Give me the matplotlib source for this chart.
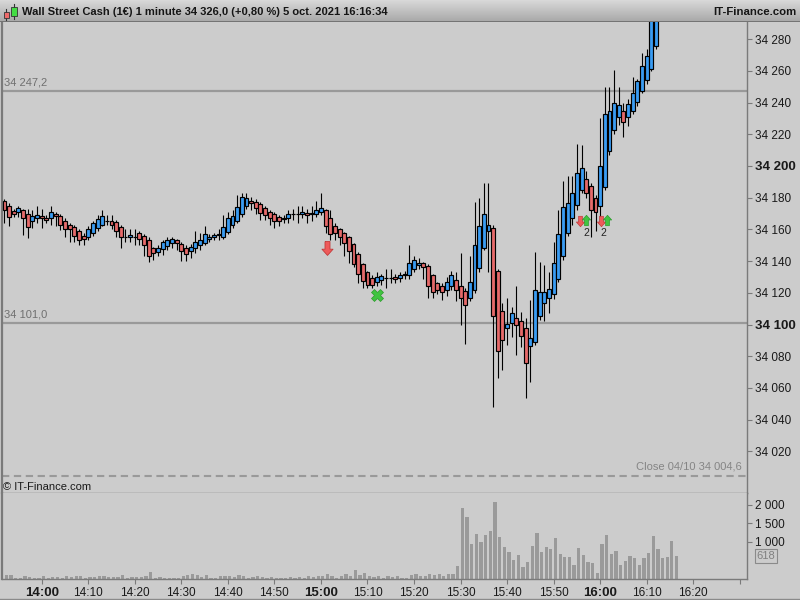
import matplotlib
matplotlib.use("Agg")
import matplotlib.pyplot as plt
import numpy as np
from matplotlib.lines import Line2D
from matplotlib.patches import Rectangle
from matplotlib.colors import LinearSegmentedColormap

plt.rcParams['font.family'] = ['Liberation Sans', 'DejaVu Sans']

# ---------------- data (1-minute candles, first candle 13:52) ----------------
first_minute = -8          # minutes relative to 14:00
opens = [
    34178, 34175, 34171.5, 34171, 34172, 34169.5, 34165, 34167.5,
    34168.5, 34167.5, 34167, 34169.5, 34168.5, 34165.5, 34163, 34161.5, 34159, 34156,
    34155, 34157.5, 34161, 34163, 34165.5, 34165.5, 34164.5, 34161.5, 34155, 34155.5,
    34155.5, 34157.5, 34156, 34153, 34148, 34146, 34147.5, 34149.5, 34151.5, 34153,
    34151, 34148.5, 34146.5, 34148, 34150, 34151.5, 34154, 34155, 34156.5, 34155.5,
    34158.5, 34163, 34165.5, 34170, 34175, 34178, 34177, 34176, 34173.5, 34171,
    34169.5, 34168, 34166.5, 34167, 34169.5, 34170, 34169.5, 34170.5, 34170, 34170,
    34171, 34172, 34167, 34162, 34160, 34157.5, 34155, 34150.5, 34144.5, 34138,
    34133, 34129.5, 34126.5, 34128, 34129.5, 34129.5, 34130, 34129.5, 34131, 34131,
    34135, 34137.5, 34138.5, 34137, 34131, 34126, 34124, 34122, 34124.5, 34128,
    34124.5, 34121, 34117, 34122, 34135.5, 34148.5, 34159, 34161, 34133.5, 34108.5,
    34097.5, 34101, 34104, 34102, 34097.5, 34086.5, 34089, 34105.5, 34113.5, 34116.5,
    34119, 34129, 34143, 34158, 34167.5, 34175.5, 34185, 34191.5, 34187.5, 34179.5,
    34175, 34187, 34209.5, 34222.5, 34231, 34234.5, 34231, 34235, 34240.5, 34247.5,
    34254.5, 34261.5, 34276]
closes = [
    34172, 34168, 34170, 34173.5, 34167, 34161.5, 34168.5, 34169,
    34167.5, 34166, 34171, 34168.5, 34163, 34160.5, 34160, 34156, 34153, 34154,
    34160, 34164, 34166.5, 34168.5, 34165.5, 34163, 34159, 34155, 34155, 34156.5,
    34155.5, 34154, 34150, 34143.5, 34145, 34148.5, 34152, 34153, 34154, 34151.5,
    34146.5, 34144.5, 34149, 34152, 34153, 34157, 34155.5, 34156.5, 34157, 34161.5,
    34167.5, 34168.5, 34174, 34180.5, 34180, 34176.5, 34173.5, 34170.5, 34169, 34167.5,
    34165.5, 34165.5, 34167.5, 34170, 34169.5, 34170, 34171, 34169, 34170.5, 34172.5,
    34173.5, 34162, 34157, 34158, 34155, 34151.5, 34146.5, 34138, 34132, 34127.5,
    34125, 34125, 34130, 34130.5, 34129.5, 34129.5, 34128.5, 34131.5, 34132, 34138.5,
    34140.5, 34139, 34136, 34124.5, 34120.5, 34122, 34120.5, 34126.5, 34131, 34122,
    34117, 34112.5, 34126.5, 34150, 34162, 34169.5, 34162.5, 34105.5, 34083, 34090.5,
    34100.5, 34107.5, 34099.5, 34093, 34075.5, 34091.5, 34122, 34120.5, 34120.5, 34122.5,
    34139, 34157, 34174, 34176.5, 34183, 34195.5, 34198.5, 34183, 34172, 34171,
    34200, 34232.5, 34234.5, 34240, 34238.5, 34228, 34239, 34246, 34253.5, 34263,
    34269.5, 34295, 34300]
highs = [
    34179, 34176.5, 34173, 34175, 34173, 34173, 34172, 34175,
    34173, 34169, 34175, 34171, 34170, 34167, 34164, 34163, 34160, 34157.5,
    34162, 34165, 34169, 34172, 34169, 34169, 34166, 34163, 34160, 34160,
    34160, 34159, 34157, 34155, 34149, 34150, 34153, 34155, 34155, 34154,
    34152, 34150, 34151, 34159, 34158, 34162, 34157, 34158, 34160, 34169,
    34171, 34172, 34182, 34183, 34183, 34180.5, 34179, 34177, 34175, 34172.5,
    34171, 34169, 34169, 34172, 34173, 34175, 34175, 34173, 34175, 34178,
    34183, 34173, 34172, 34164, 34161, 34158.5, 34156, 34151.5, 34145.5, 34139,
    34134, 34131, 34133, 34132, 34135, 34135, 34132, 34133, 34134, 34150,
    34143, 34142, 34139.5, 34138, 34132, 34127, 34126, 34130, 34134, 34133,
    34145, 34123, 34143, 34177, 34180, 34189.5, 34189.5, 34163, 34135, 34113.5,
    34116.5, 34111, 34124, 34108, 34104, 34115.5, 34146, 34139.5, 34137.5, 34133,
    34152, 34172.5, 34190.5, 34194, 34194, 34214, 34213, 34197, 34189, 34182,
    34230, 34250, 34250, 34260.5, 34250, 34240, 34242, 34256, 34255, 34271,
    34274, 34300, 34305]
lows = [
    34164, 34162, 34168, 34168, 34156.5, 34154.5, 34161, 34164,
    34161, 34164, 34163, 34162, 34159.5, 34155.5, 34152, 34152, 34150, 34150,
    34153, 34156, 34159, 34162, 34163, 34160, 34155, 34148, 34152, 34152,
    34150, 34150, 34143, 34139.5, 34141, 34143, 34144, 34147, 34148, 34147,
    34140, 34140, 34142, 34145, 34147, 34150, 34152, 34153, 34153, 34154,
    34157, 34161, 34164, 34168, 34173, 34172, 34170, 34166, 34166, 34163,
    34161, 34162, 34164, 34164, 34166, 34164, 34167, 34164, 34165, 34168,
    34169, 34157.5, 34153, 34153, 34150, 34143, 34139, 34136, 34126, 34123,
    34123, 34123, 34124, 34125, 34123, 34126, 34126, 34127, 34129, 34129,
    34133, 34135, 34129, 34117, 34117, 34119, 34115.5, 34118, 34122, 34115,
    34100, 34088, 34115, 34120, 34133, 34147, 34133, 34048, 34066, 34071,
    34087, 34092, 34081, 34086, 34053.5, 34064, 34087, 34103, 34102, 34107,
    34116, 34127, 34141, 34156, 34163, 34172, 34183, 34180, 34155, 34159,
    34165, 34185, 34207, 34220, 34226, 34218, 34225, 34233, 34238, 34246,
    34252, 34260, 34274]
volumes = [
    108, 108, 27, 27, 81, 54, 27, 27,
    81, 27, 54, 54, 27, 81, 54, 81, 81, 27,
    54, 54, 81, 81, 54, 54, 54, 108, 27, 54,
    54, 54, 81, 189, 27, 54, 27, 27, 27, 27,
    81, 108, 135, 108, 54, 108, 27, 27, 81, 81,
    81, 54, 108, 81, 27, 54, 81, 54, 27, 54,
    27, 27, 27, 54, 27, 54, 27, 81, 54, 81,
    81, 135, 81, 27, 81, 135, 81, 243, 108, 162,
    81, 54, 81, 27, 81, 54, 81, 27, 27, 100,
    127, 73, 73, 127, 100, 127, 73, 127, 127, 343,
    1902, 1667, 937, 1207, 1000, 1180, 1289, 2073, 1127, 857,
    722, 523, 640, 316, 451, 883, 1243, 722, 857, 802,
    1099, 667, 586, 586, 370, 830, 640, 451, 424, 154,
    937, 1180, 667, 748, 370, 478, 613, 559, 370, 559,
    694, 1154, 802, 559, 586, 1019, 618]

level_high = 34247.2
level_low = 34101.0
prev_close = 34004.6
last_volume = 618

sell_big_t, sell_big_p = [61.3], [34148.3]
cross_t, cross_p = [72.0], [34118.6]
small_down_t, small_down_p = [115.6, 120.1], [34165.0, 34165.0]
small_up_t, small_up_p = [117.0, 121.5], [34166.0, 34166.0]
count_t, count_p, count_txt = [117.1, 120.6], [34158.0, 34158.0], ["2", "2"]

price_ticks = list(range(34020, 34281, 20))
vol_ticks = [1000, 1500, 2000]
time_ticks = list(range(0, 151, 10))
time_labels = ["14:00", "14:10", "14:20", "14:30", "14:40", "14:50", "15:00", "15:10",
               "15:20", "15:30", "15:40", "15:50", "16:00", "16:10", "16:20", ""]

title = "Wall Street Cash (1€) 1 minute 34 326,0 (+0,80 %) 5 oct. 2021 16:16:34"

# ---------------- figure ----------------
W, H = 800, 600
BG = '#cccccc'
BLUE = '#3a9cf2'
RED = '#e66a6a'
fig = plt.figure(figsize=(8, 6), dpi=100, facecolor=BG)


def fy(ypix):
    return 1 - ypix / H


ax = fig.add_axes([1.5 / W, fy(493), (747 - 1.5) / W, (493 - 22) / H])
axv = fig.add_axes([1.5 / W, fy(579), (747 - 1.5) / W, (579 - 493) / H], sharex=ax)
for a in (ax, axv):
    a.set_facecolor(BG)
    for s in a.spines.values():
        s.set_color('#7a7a7a')
        s.set_linewidth(1.0)
    a.spines['top'].set_visible(False)
    a.spines['left'].set_linewidth(1.6)

t_c = np.arange(len(opens)) + first_minute
o = np.array(opens); c = np.array(closes)
hi = np.array(highs); lo = np.array(lows)
cols = [BLUE if (cc > oo) else (RED if cc < oo else 'black') for oo, cc in zip(o, c)]

ax.vlines(t_c, lo, hi, color='black', lw=0.8, zorder=2)
ax.bar(t_c, np.abs(c - o), bottom=np.minimum(o, c), width=0.84, color=cols,
       edgecolor='black', linewidth=0.85, zorder=3)

XMIN = (1.5 - 41.7) / 4.654
XMAX = (747 - 41.7) / 4.654
ax.set_xlim(XMIN, XMAX)
ax.set_ylim(34200 - (493 - 166) / 1.585, 34200 + (166 - 22) / 1.585)

# reference lines
for lv in (level_high, level_low):
    ax.axhline(lv, color='#999999', lw=1.6, zorder=1)
ax.annotate("34 247,2", xy=(0, level_high), xycoords=('axes fraction', 'data'),
            xytext=(1.5, 2.5), textcoords='offset points', va='bottom', ha='left',
            fontsize=8, color='#707070')
ax.annotate("34 101,0", xy=(0, level_low), xycoords=('axes fraction', 'data'),
            xytext=(1.5, 2.5), textcoords='offset points', va='bottom', ha='left',
            fontsize=8, color='#707070')
ax.axhline(prev_close, color='#999999', lw=1.5, ls=(0, (3.5, 2.2)), zorder=1)
ax.annotate("Close 04/10 34 004,6", xy=(1, prev_close), xycoords=('axes fraction', 'data'),
            xytext=(-4, 3), textcoords='offset points', va='bottom', ha='right',
            fontsize=8, color='#858585')

# signals
down_arrow = [(-0.36, 1), (0.36, 1), (0.36, -0.1), (0.8, -0.1), (0, -1),
              (-0.8, -0.1), (-0.36, -0.1), (-0.36, 1)]
up_arrow = [(x, -y) for x, y in down_arrow]
ax.plot(sell_big_t, sell_big_p, ls='none', marker=down_arrow, ms=10,
        mfc='#ee5a5a', mec='#c23a3a', mew=0.6, zorder=5)
ax.plot(cross_t, cross_p, ls='none', marker='X', ms=9,
        mfc='#40c440', mec='#2c9a2c', mew=0.5, zorder=5)
ax.plot(small_down_t, small_down_p, ls='none', marker=down_arrow, ms=7.5,
        mfc='#ee5a5a', mec='#c23a3a', mew=0.5, zorder=5)
ax.plot(small_up_t, small_up_p, ls='none', marker=up_arrow, ms=7.5,
        mfc='#40c440', mec='#2c9a2c', mew=0.5, zorder=5)
for tt, pp, tx in zip(count_t, count_p, count_txt):
    ax.text(tt, pp, tx, ha='center', va='center', fontsize=7.5, color='#222222')

ax.yaxis.tick_right()
ax.set_yticks(price_ticks)
ax.set_yticklabels([f"{p // 1000} {p % 1000:03d}" for p in price_ticks])
ax.tick_params(axis='y', direction='out', length=3.5, width=0.8, color='#7a7a7a',
               pad=2, labelsize=8.5, labelcolor='#1a1a1a')
for lab, p in zip(ax.get_yticklabels(), price_ticks):
    if p % 100 == 0:
        lab.set_fontweight('bold')
        lab.set_fontsize(9.5)
ax.tick_params(axis='x', bottom=False, labelbottom=False)

# volume
t_v = np.arange(len(volumes)) + first_minute
axv.bar(t_v + 0.4, volumes, width=0.7, color='#9a9a9a', zorder=2)
axv.set_ylim(0, 86 / 0.03715)
axv.yaxis.tick_right()
axv.set_yticks(vol_ticks)
axv.set_yticklabels(["1 000", "1 500", "2 000"])
axv.tick_params(axis='y', direction='out', length=3.5, width=0.8, color='#7a7a7a',
                pad=2, labelsize=8.5, labelcolor='#1a1a1a')
axv.set_xticks(time_ticks)
axv.set_xticklabels(time_labels)
axv.tick_params(axis='x', direction='out', length=3.5, width=0.8, color='#7a7a7a',
                pad=2, labelsize=8.5, labelcolor='#1a1a1a')
for lab, txt in zip(axv.get_xticklabels(), time_labels):
    if txt.endswith(":00"):
        lab.set_fontweight('bold')
        lab.set_fontsize(9.5)
axv.annotate(str(last_volume), xy=(1, last_volume), xycoords=('axes fraction', 'data'),
             xytext=(7, 0), textcoords='offset points', va='center', ha='left',
             fontsize=8, color='#808080', annotation_clip=False,
             bbox=dict(boxstyle='square,pad=0.15', fc=BG, ec='#8a8a8a', lw=0.8))

fig.text(3 / W, fy(487), "© IT-Finance.com", va='center', ha='left', fontsize=8,
         color='#1a1a1a')

# header
hax = fig.add_axes([0, fy(22), 1, 22 / H])
hax.set_xlim(0, W); hax.set_ylim(22, 0)
hax.axis('off')
cmap = LinearSegmentedColormap.from_list('hdr', ['#d8d8d8', '#a8a8a8'])
hax.imshow(np.linspace(0, 1, 22)[:, None], aspect='auto', cmap=cmap,
           extent=(0, W, 22, 0), zorder=0)
hax.plot([0, W], [21.5, 21.5], color='#6a6a6a', lw=1.2, zorder=1)
hax.plot([6.2, 6.2], [9, 19.5], color='#333333', lw=0.8, zorder=2)
hax.add_patch(Rectangle((3.5, 11.7), 5.5, 5.8, fc='#ee6a6a', ec='#333333', lw=0.6, zorder=3))
hax.plot([14, 14], [3.5, 19], color='#333333', lw=0.8, zorder=2)
hax.add_patch(Rectangle((11, 7.3), 5.7, 8.5, fc='#44dd44', ec='#333333', lw=0.6, zorder=3))
hax.text(22.5, 12, title, va='center', ha='left', fontsize=8.0, fontweight='bold',
         color='#151515', zorder=4)
hax.text(796, 12, "IT-Finance.com", va='center', ha='right', fontsize=8.2,
         fontweight='bold', color='#151515', zorder=4)

fig.add_artist(Line2D([0, 1], [fy(598.5), fy(598.5)], color='#8a8a8a', lw=1))

fig.savefig("out.png", dpi=100, facecolor=BG)
